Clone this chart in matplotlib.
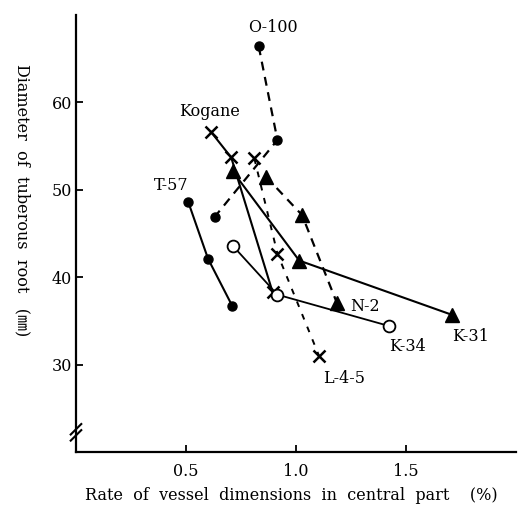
import matplotlib
matplotlib.use('Agg')
import matplotlib.pyplot as plt

plt.rcParams['font.family'] = ['DejaVu Serif', 'Noto Sans CJK JP']

## 품종별 데이터 (x: 중심부 도관 비율 %, y: 괴근 직경 mm)
t57_x = [0.51, 0.60, 0.71]
t57_y = [48.6, 42.1, 36.7]

o100_x = [0.83, 0.915, 0.63]
o100_y = [66.4, 55.7, 46.9]

kogane_x = [0.614, 0.705, 0.893]
kogane_y = [56.6, 53.7, 38.3]

k34_x = [0.712, 0.915, 1.424]
k34_y = [43.6, 38.0, 34.4]

k31_x = [0.712, 1.014, 1.707]
k31_y = [52.1, 41.9, 35.7]

n2_x = [0.863, 1.027, 1.186]
n2_y = [51.5, 47.1, 37.0]

l45_x = [0.81, 0.915, 1.104]
l45_y = [53.6, 42.7, 31.0]

x_ticks = [0.5, 1.0, 1.5]
x_tick_labels = ['0.5', '1.0', '1.5']
y_ticks = [30, 40, 50, 60]

fig = plt.figure(figsize=(5.18, 5.2), dpi=100)
ax = fig.add_axes([0.1467, 0.1308, 0.85, 0.8404])

## 실선 계열
ax.plot(t57_x, t57_y, color='black', lw=1.5, marker='o', ms=6.5)
ax.plot(kogane_x, kogane_y, color='black', lw=1.5, marker='x', ms=9, mew=1.8)
ax.plot(k34_x, k34_y, color='black', lw=1.3, marker='o', ms=8.5, mfc='white', mew=1.3)
ax.plot(k31_x, k31_y, color='black', lw=1.5, marker='^', ms=10)

## 점선 계열
ax.plot(o100_x, o100_y, color='black', lw=1.6, ls=(0, (4, 3)), marker='o', ms=6.5)
ax.plot(n2_x, n2_y, color='black', lw=1.6, ls=(0, (4, 3)), marker='^', ms=10)
ax.plot(l45_x, l45_y, color='black', lw=1.4, ls=(0, (3, 4)), marker='x', ms=9, mew=1.8)

## 품종 이름
fs = 11.5
ax.text(0.896, 68.6, 'O-100', ha='center', va='center', fontsize=fs)
ax.text(0.606, 58.9, 'Kogane', ha='center', va='center', fontsize=fs)
ax.text(0.434, 50.5, 'T-57', ha='center', va='center', fontsize=fs)
ax.text(1.245, 36.7, 'N-2', ha='left', va='center', fontsize=fs)
ax.text(1.507, 32.1, 'K-34', ha='center', va='center', fontsize=fs)
ax.text(1.792, 33.2, 'K-31', ha='center', va='center', fontsize=fs)
ax.text(1.217, 28.4, 'L-4-5', ha='center', va='center', fontsize=fs)

ax.set_xlim(0, 2.0)
ax.set_ylim(20, 70)
ax.set_xticks(x_ticks)
ax.set_xticklabels(x_tick_labels)
ax.set_yticks(y_ticks)
ax.tick_params(direction='in', length=5, width=1.3, labelsize=11.5)
ax.tick_params(axis='x', pad=8)
ax.tick_params(axis='y', pad=3)

ax.spines['top'].set_visible(False)
ax.spines['right'].set_visible(False)
ax.spines['left'].set_linewidth(1.6)
ax.spines['bottom'].set_linewidth(1.6)

## y축 생략 표시 (//)
for yb in [0.038, 0.052]:
    ax.plot([-0.012, 0.012], [yb - 0.012, yb + 0.012], transform=ax.transAxes,
            color='black', lw=1.5, clip_on=False)

fig.text(0.562, 0.048, 'Rate  of  vessel  dimensions  in  central  part    (%)',
         ha='center', va='center', fontsize=11.5)
fig.text(0.043, 0.615, 'Diameter  of  tuberous  root   (㎜)', rotation=-90,
         ha='center', va='center', fontsize=11.5)

plt.savefig('out.png', dpi=100)
